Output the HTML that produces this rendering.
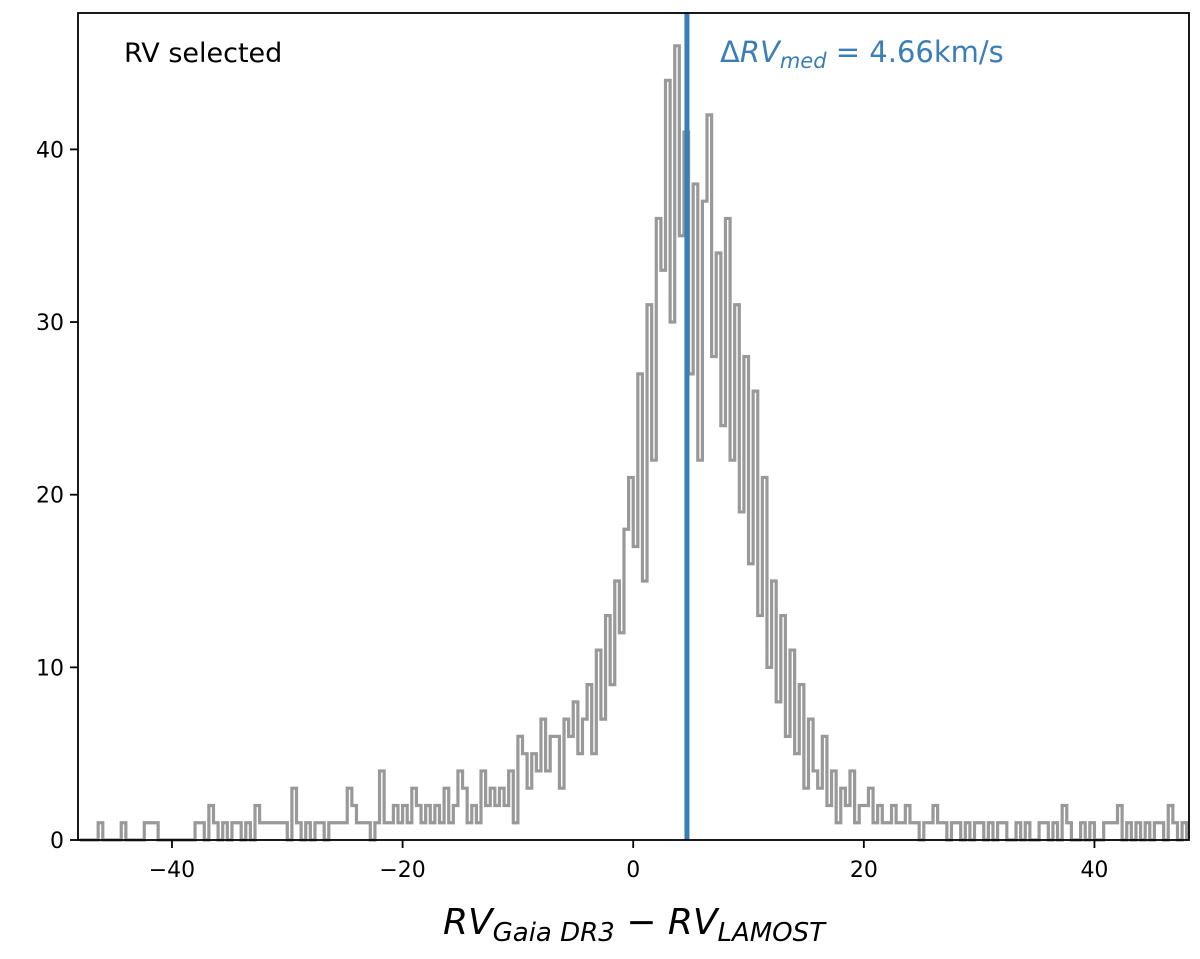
<!DOCTYPE html>
<html><head><meta charset="utf-8"><style>
body{margin:0;background:#fff}
svg{display:block;font-family:"DejaVu Sans","Liberation Sans",sans-serif}
</style></head><body>
<svg id="chart" width="1200" height="959"></svg>
<script>
const binStart = -48;
const binWidth = 0.4;
const counts = [
0,0,0,0,1,0,0,0,0,1,
0,0,0,0,1,1,1,0,0,0,
0,0,0,0,0,1,1,0,2,1,
0,1,0,1,1,0,1,0,2,1,
1,1,1,1,1,0,3,1,0,1,
0,1,1,0,1,1,1,1,3,2,
1,1,1,0,1,4,1,1,2,1,
2,1,3,2,1,2,1,2,1,3,
1,2,4,3,1,2,1,4,2,3,
2,3,2,4,1,6,5,3,5,4,
7,4,6,6,3,7,6,8,5,7,
9,5,11,7,13,9,15,12,18,21,
17,27,15,31,22,36,33,44,30,46,
35,41,27,38,22,37,42,28,34,24,
36,22,31,19,28,16,26,13,21,10,
15,8,13,6,11,5,9,3,7,4,
3,6,2,4,1,3,2,4,1,2,
2,3,1,2,1,1,2,1,1,2,
1,1,0,1,1,2,1,1,0,1,
1,0,1,0,1,1,0,1,0,1,
1,0,0,1,0,1,0,0,1,1,
0,1,0,2,1,0,0,1,0,1,
0,0,1,1,1,2,0,1,0,1,
0,1,0,1,1,0,2,1,0,1];
const medianValue = 4.66;
const xTicks = [-40,-20,0,20,40];
const yTicks = [0,10,20,30,40];

const L=78,R=1189,T=13,B=840;
const xMin=-48.15,xMax=48.2,yMin=0,yMax=47.9;
const sx=v=>L+(v-xMin)/(xMax-xMin)*(R-L);
const sy=v=>B-(v-yMin)/(yMax-yMin)*(B-T);
const svg=document.getElementById('chart');
const NS='http://www.w3.org/2000/svg';
function mk(t,a){const e=document.createElementNS(NS,t);for(const k in a)e.setAttribute(k,a[k]);svg.appendChild(e);return e;}

let d='M'+sx(binStart)+','+sy(0);
counts.forEach((c,i)=>{const x0=sx(binStart+i*binWidth),x1=sx(binStart+(i+1)*binWidth);d+=' L'+x0+','+sy(c)+' L'+x1+','+sy(c);});
d+=' L'+sx(binStart+counts.length*binWidth)+','+sy(0);
const h=mk('path',{d:d,fill:'none',stroke:'#999999','stroke-width':3.2});



const m=mk('line',{x1:sx(medianValue),x2:sx(medianValue),y1:T,y2:B,stroke:'#3b7db6','stroke-width':5});



const fr=mk('rect',{x:L,y:T,width:R-L,height:B-T,fill:'none',stroke:'#000','stroke-width':1.8});



xTicks.forEach(v=>{
  const t=mk('line',{x1:sx(v),x2:sx(v),y1:B,y2:B+8,stroke:'#000','stroke-width':1.8});
  
  
  const l=mk('text',{x:sx(v),y:B+37,'text-anchor':'middle','font-size':22});
  l.textContent=v<0?'\u2212'+Math.abs(v):String(v);
  
  
});
yTicks.forEach(v=>{
  const t=mk('line',{x1:L-8,x2:L,y1:sy(v),y2:sy(v),stroke:'#000','stroke-width':1.8});
  
  
  const l=mk('text',{x:L-14,y:sy(v)+8,'text-anchor':'end','font-size':22});
  l.textContent=String(v);
  
  
});
</script>
<svg width="1200" height="959" style="position:absolute;left:0;top:0">
<text x="124" y="62" font-size="27" fill="#000" font-family="DejaVu Sans,sans-serif">RV selected</text>
<text x="720" y="62" font-size="29" fill="#3b7db6" font-family="DejaVu Sans,sans-serif">Δ<tspan font-style="italic">RV</tspan><tspan font-style="italic" font-size="21" dy="6">med</tspan><tspan dy="-6"> = 4.66km/s</tspan></text>
<text x="634" y="934" text-anchor="middle" font-size="36" font-family="DejaVu Sans,sans-serif"><tspan font-style="italic">RV</tspan><tspan font-style="italic" font-size="26" dy="7">Gaia DR3</tspan><tspan dy="-7"> − </tspan><tspan font-style="italic">RV</tspan><tspan font-style="italic" font-size="26" dy="7">LAMOST</tspan></text>
</svg>
</body></html>
